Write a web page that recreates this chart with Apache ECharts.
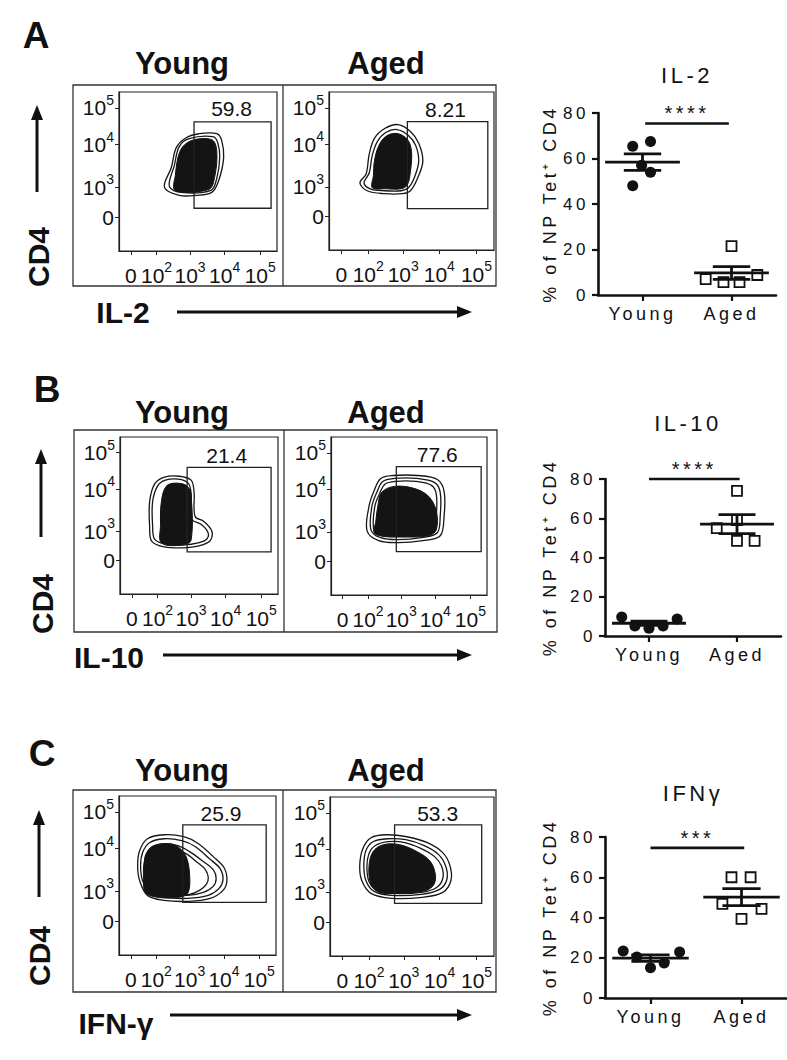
<!DOCTYPE html>
<html><head><meta charset="utf-8">
<script src="https://cdn.jsdelivr.net/npm/echarts@6/dist/echarts.min.js"></script>
<style>
html,body{margin:0;padding:0;background:#fff;}
#flow,#dots{position:absolute;left:0;top:0;width:787px;height:1060px;}
#dots{letter-spacing:3.5px;}
</style></head><body>
<div id="flow"></div><div id="dots"></div>
<script>
// ================= DATA =================
const panelLetters = ['A', 'B', 'C'];
const cytokineAxis = ['IL-2', 'IL-10', 'IFN-γ'];
const dotTitles = ['IL-2', 'IL-10', 'IFNγ'];
const groups = ['Young', 'Aged'];
const markerAxisName = 'CD4';

// flow cytometry display-channel axes (0..160 channel units)
const flowXTicks = [12, 38, 72, 107, 143];
const flowXTickLabels = ['0', '10^2', '10^3', '10^4', '10^5'];
const flowYTicks = [34, 64, 107, 144];
const flowYTickLabels = ['0', '10^3', '10^4', '10^5'];

// gates [x1, x2, y1, y2] in channel units, order: A young, A aged, B young, B aged, C young, C aged
const gates = [[76,154,43,130],[76,154,42,130],[68,153,43,129],[67,154,44,130],[65,150,53,131],[63,148,53,132]];
const gatePct = ['59.8', '8.21', '21.4', '77.6', '25.9', '53.3'];
const gatePctPos = [[114,143],[113,142],[108,141],[109,142],[104,142],[105,143]];

// contour outlines (channel units)
const aYoungOuter = [[46,64],[61,56],[78,56],[94,59],[101,71],[106,94],[104,111],[99,118],[81,118],[68,114],[58,104],[53,84]];
const aYoungMid = [[51,65],[63,59],[93,61],[99,73],[102,94],[100,109],[95,115],[71,113],[61,105],[56,86]];
const aYoungCore = [[57,61],[91,62],[97,75],[99,101],[94,112],[73,111],[62,101],[57,76]];

const aAgedOuter = [[30,68],[37,60],[54,57],[71,57],[79,60],[86,73],[91,90],[87,108],[79,120],[67,127],[54,123],[44,113],[39,97],[36,77]];
const aAgedMid = [[34,68],[40,62],[54,60],[70,60],[77,63],[83,74],[87,90],[84,106],[77,116],[66,122],[55,119],[47,110],[42,96],[39,78]];
const aAgedCore = [[42,63],[55,62],[70,62],[76,66],[79,80],[80,100],[76,112],[66,118],[55,115],[48,105],[44,90],[43,75]];

const bYoungOuter = [[32,54],[45,48],[65,47],[80,49],[91,54],[93,64],[85,74],[76,79],[75,104],[72,116],[60,120],[45,119],[35,112],[30,94],[30,69]];
const bYoungMid = [[35,56],[46,51],[65,50],[79,52],[88,56],[89,63],[82,71],[73,76],[72,103],[69,113],[59,117],[46,116],[38,110],[33,94],[33,70]];
const bYoungCore = [[42,52],[64,50],[72,55],[72,100],[68,110],[57,113],[47,110],[42,95],[41,70]];

const bAgedOuter = [[37,65],[49,55],[69,53],[94,55],[112,60],[116,80],[116,105],[109,117],[89,121],[64,121],[51,118],[44,105],[39,90]];
const bAgedMid = [[41,66],[51,58],[69,56],[93,58],[109,63],[112,80],[112,104],[106,114],[88,118],[65,118],[53,115],[47,104],[42,90]];
const bAgedInner = [[44,66],[53,60],[69,59],[92,61],[106,66],[108,80],[108,102],[103,111],[87,115],[66,115],[55,112],[50,103],[45,90]];
const bAgedCore = [[45,62],[70,59],[100,60],[108,66],[108,85],[100,100],[85,108],[65,110],[52,104],[48,90],[46,75]];

const cYoungOuter = [[21,75],[29,60],[46,55],[71,54],[93,57],[106,65],[110,75],[107,88],[96,99],[81,112],[66,119],[46,121],[29,117],[21,105],[19,90]];
const cYoungMid = [[24,75],[32,62],[46,58],[70,57],[91,60],[102,67],[106,76],[103,87],[92,97],[78,109],[64,115],[46,117],[31,113],[24,103],[22,90]];
const cYoungInner = [[28,74],[35,63],[48,61],[70,60],[86,63],[96,69],[99,77],[96,86],[86,94],[72,104],[60,110],[46,112],[33,108],[27,100],[26,88]];
const cYoungInner2 = [[29,72],[38,61],[55,60],[72,61],[82,65],[89,71],[91,78],[88,86],[80,93],[70,101],[60,106],[47,108],[35,104],[29,97],[28,86]];
const cYoungCore = [[27,63],[40,58],[60,58],[70,62],[72,80],[68,100],[58,110],[45,112],[32,108],[26,95],[25,78]];

const cAgedOuter = [[31,76],[40,63],[60,58],[90,59],[110,64],[118,76],[117,91],[110,104],[95,114],[75,120],[55,122],[40,119],[32,108],[29,91]];
const cAgedMid = [[35,76],[43,65],[60,61],[89,62],[107,67],[114,77],[113,90],[106,102],[92,111],[74,117],[56,118],[42,115],[35,106],[33,91]];
const cAgedInner = [[38,75],[46,66],[62,63],[89,64],[104,69],[110,78],[109,90],[102,100],[89,108],[73,114],[57,115],[44,111],[38,103],[36,90]];
const cAgedCore = [[40,72],[48,64],[65,63],[90,65],[100,70],[103,80],[98,95],[85,105],[68,112],[52,112],[42,105],[38,90]];

const flowRings = [
  [aYoungOuter, aYoungMid], [aAgedOuter, aAgedMid],
  [bYoungOuter, bYoungMid], [bAgedOuter, bAgedMid, bAgedInner],
  [cYoungOuter, cYoungMid, cYoungInner, cYoungInner2], [cAgedOuter, cAgedMid, cAgedInner]
];
const flowCores = [aYoungCore, aAgedCore, bYoungCore, bAgedCore, cYoungCore, cAgedCore];

// dot plots: x = group position (Young 1, Aged 2) with jitter, y = % of NP Tet+ CD4
const youngIL2 = [[0.89,65.4],[1.09,67.5],[0.99,57],[1.09,54],[0.89,48]];
const agedIL2 = [[2.0,21.5],[1.71,7],[1.91,5.7],[2.09,5.7],[2.29,8.8]];
const youngIL10 = [[0.69,9.7],[0.84,5.1],[1.0,4],[1.16,5.1],[1.32,8.7]];
const agedIL10 = [[2.0,74],[1.77,55],[2.0,48.5],[2.2,48.5],[2.0,59]];
const youngIFNg = [[0.7,23.4],[0.85,20.4],[1.0,15],[1.15,17.4],[1.32,22.9]];
const agedIFNg = [[1.89,60],[2.1,60],[1.79,46.8],[2.22,44.3],[2.0,39.3]];
const meanYoung = [58.4, 6.5, 19.8];
const meanAged = [9.7, 57.0, 50.1];
const semYoung = [3.6, 1.1, 1.6];
const semAged = [2.8, 4.8, 4.2];
const sigLabels = ['****', '****', '***'];
const sigFrom = [1.03, 1.0, 1.0];
const sigTo = [1.97, 2.03, 2.03];
const sigY = [75.4, 80, 74.6];
const dotYTicks = [0, 80, 20]; // min, max, interval

// ================= LAYOUT / STYLE =================
const FF = '"Liberation Sans", Arial, Helvetica, sans-serif';
const INK = '#111';
const flowLayout = [
  {left:119, top:92, width:158, height:159}, {left:329, top:92, width:165, height:158},
  {left:120, top:437, width:158, height:157}, {left:331, top:437, width:156, height:158},
  {left:119, top:796, width:157, height:159}, {left:330, top:797, width:164, height:159}
];
const dotLayout = [
  {left:598, top:113, width:178, height:182},
  {left:605, top:479, width:176, height:157},
  {left:605, top:837, width:182, height:161}
];
const outerBoxes = [
  {x:73, y:85, w:423, h:201, div:283}, {x:74, y:430, w:423, h:202, div:284}, {x:73, y:790, w:423, h:202, div:283}
];
const letterPos = [[36,35],[47,389],[42,753]];
const titleY = [63, 412, 770];
const titleX = [182, 386];
const cd4Pos = [[38,257],[42,604],[39,956]];
const upArrow = [[37,192,105],[41,537,449],[39,897,810]];
const cytoPos = [[123,312],[109,657],[116,1023]];
const rightArrow = [[177,472,312],[163,472,655],[170,472,1015]];
const dotTitlePos = [[687,75],[688,423],[693,793]];
const dotNameGap = [39, 46, 46];

function richLabel(s) {
  if (s.indexOf('^') < 0) return '{n|' + s + '}';
  const p = s.split('^');
  return '{n|' + p[0] + '}{s|' + p[1] + '}';
}
const flowRich = {
  n: {fontSize: 21, fontFamily: FF, color: INK, lineHeight: 30},
  s: {fontSize: 14, fontFamily: FF, color: INK, lineHeight: 13, verticalAlign: 'top'}
};

// ================= FLOW CHART =================
const flowGrids = flowLayout.map(g => Object.assign({show: true, borderColor: '#222', borderWidth: 1.2, containLabel: false}, g));
const flowX = flowLayout.map((g, i) => ({
  gridIndex: i, type: 'value', min: 0, max: 160,
  axisLine: {show: true, lineStyle: {color: '#222', width: 1.2}},
  axisTick: {show: true, customValues: flowXTicks, length: 4, lineStyle: {color: '#222'}},
  axisLabel: {customValues: flowXTicks, margin: 9, fontSize: 21, fontFamily: FF, color: INK, hideOverlap: false,
    formatter: v => richLabel(flowXTickLabels[flowXTicks.indexOf(v)] || ''), rich: flowRich},
  splitLine: {show: false}
}));
const flowY = flowLayout.map((g, i) => ({
  gridIndex: i, type: 'value', min: 0, max: 160,
  axisLine: {show: true, lineStyle: {color: '#222', width: 1.2}},
  axisTick: {show: true, customValues: flowYTicks, length: 4, lineStyle: {color: '#222'}},
  axisLabel: {customValues: flowYTicks, margin: 5, fontSize: 21, fontFamily: FF, color: INK, hideOverlap: false,
    formatter: v => richLabel(flowYTickLabels[flowYTicks.indexOf(v)] || ''), rich: flowRich},
  splitLine: {show: false}
}));

function polySeries(gi, pts, style, smooth) {
  return {
    type: 'custom', xAxisIndex: gi, yAxisIndex: gi, data: pts, silent: true, animation: false, clip: false,
    renderItem: (p, api) => p.dataIndex === 0 ? {
      type: 'polygon', shape: {points: pts.map(q => api.coord(q)), smooth: smooth}, style: style
    } : null
  };
}
const flowSeries = [];
flowLayout.forEach((g, i) => {
  flowSeries.push(polySeries(i, flowCores[i], {fill: '#141414', stroke: '#141414', lineWidth: 1}, 0.35));
  flowRings[i].forEach(r => flowSeries.push(polySeries(i, r, {fill: 'none', stroke: '#161616', lineWidth: 1.3}, 0.35)));
  const gt = gates[i];
  flowSeries.push(polySeries(i, [[gt[0],gt[2]],[gt[1],gt[2]],[gt[1],gt[3]],[gt[0],gt[3]]], {fill: 'none', stroke: '#222', lineWidth: 1.3}, 0));
  flowSeries.push({
    type: 'custom', xAxisIndex: i, yAxisIndex: i, data: [gatePctPos[i]], silent: true, animation: false,
    renderItem: (p, api) => {
      const c = api.coord([api.value(0), api.value(1)]);
      return {type: 'text', x: c[0], y: c[1], style: {text: gatePct[i], fontSize: 21, fontFamily: FF, fill: INK, align: 'center', verticalAlign: 'middle'}};
    }
  });
});

const flowGraphic = [];
function gText(x, y, text, size, rot) {
  return {type: 'text', x: x, y: y, rotation: rot || 0, silent: true,
    style: {text: text, font: 'bold ' + size + 'px ' + FF, fill: INK, align: 'center', verticalAlign: 'middle', textAlign: 'center', textVerticalAlign: 'middle'}};
}
for (let k = 0; k < 3; k++) {
  const b = outerBoxes[k];
  flowGraphic.push({type: 'rect', shape: {x: b.x, y: b.y, width: b.w, height: b.h}, style: {fill: 'none', stroke: '#333', lineWidth: 1.3}, silent: true});
  flowGraphic.push({type: 'line', shape: {x1: b.div, y1: b.y, x2: b.div, y2: b.y + b.h}, style: {stroke: '#333', lineWidth: 1.3}, silent: true});
  flowGraphic.push(gText(letterPos[k][0], letterPos[k][1], panelLetters[k], 37));
  flowGraphic.push(gText(titleX[0], titleY[k], groups[0], 31));
  flowGraphic.push(gText(titleX[1], titleY[k], groups[1], 31));
  flowGraphic.push(gText(cd4Pos[k][0], cd4Pos[k][1], markerAxisName, 30, Math.PI / 2));
  flowGraphic.push(gText(cytoPos[k][0], cytoPos[k][1], cytokineAxis[k], 30));
  const u = upArrow[k];
  flowGraphic.push({type: 'line', shape: {x1: u[0], y1: u[1], x2: u[0], y2: u[2] + 10}, style: {stroke: INK, lineWidth: 3}, silent: true});
  flowGraphic.push({type: 'polygon', shape: {points: [[u[0], u[2]], [u[0] - 6, u[2] + 15], [u[0] + 6, u[2] + 15]]}, style: {fill: INK}, silent: true});
  const r = rightArrow[k];
  flowGraphic.push({type: 'line', shape: {x1: r[0], y1: r[2], x2: r[1] - 10, y2: r[2]}, style: {stroke: INK, lineWidth: 3}, silent: true});
  flowGraphic.push({type: 'polygon', shape: {points: [[r[1], r[2]], [r[1] - 15, r[2] - 6], [r[1] - 15, r[2] + 6]]}, style: {fill: INK}, silent: true});
}

const flowChart = echarts.init(document.getElementById('flow'), null, {renderer: 'svg'});
flowChart.setOption({
  backgroundColor: '#fff', animation: false,
  grid: flowGrids, xAxis: flowX, yAxis: flowY, series: flowSeries, graphic: flowGraphic
});

// ================= DOT PLOTS =================
const youngData = [youngIL2, youngIL10, youngIFNg];
const agedData = [agedIL2, agedIL10, agedIFNg];
const dotX = dotLayout.map((g, i) => ({
  gridIndex: i, type: 'value', min: 0.5, max: 2.5,
  axisLine: {show: true, lineStyle: {color: INK, width: 2.6}},
  axisTick: {show: true, customValues: [1, 2], length: 6, lineStyle: {color: INK, width: 2.2}},
  axisLabel: {customValues: [1, 2], formatter: v => groups[Math.round(v) - 1], fontSize: 18, fontFamily: FF, color: INK, margin: 10},
  splitLine: {show: false}
}));
const dotY = dotLayout.map((g, i) => ({
  gridIndex: i, type: 'value', min: dotYTicks[0], max: dotYTicks[1], interval: dotYTicks[2],
  axisLine: {show: true, lineStyle: {color: INK, width: 2.6}},
  axisTick: {show: true, length: 6, lineStyle: {color: INK, width: 2.2}},
  axisLabel: {fontSize: 17, fontFamily: FF, color: INK, margin: 9},
  splitLine: {show: false},
  name: '% of NP Tet⁺ CD4', nameLocation: 'middle', nameRotate: 90, nameGap: dotNameGap[i],
  nameTextStyle: {fontSize: 18, fontFamily: FF, color: INK}
}));
const dotSeries = [];
for (let i = 0; i < 3; i++) {
  dotSeries.push({
    type: 'custom', xAxisIndex: i, yAxisIndex: i, silent: true, animation: false, z: 2,
    data: [[1, meanYoung[i], semYoung[i]], [2, meanAged[i], semAged[i]]],
    renderItem: (p, api) => {
      const x = api.value(0), m = api.value(1), s = api.value(2);
      const st = {stroke: INK, lineWidth: 2.8};
      const seg = (a, b) => ({type: 'line', shape: {x1: a[0], y1: a[1], x2: b[0], y2: b[1]}, style: st});
      return {type: 'group', children: [
        seg(api.coord([x - 0.42, m]), api.coord([x + 0.42, m])),
        seg(api.coord([x, m - s]), api.coord([x, m + s])),
        seg(api.coord([x - 0.21, m + s]), api.coord([x + 0.21, m + s])),
        seg(api.coord([x - 0.21, m - s]), api.coord([x + 0.21, m - s]))
      ]};
    }
  });
  dotSeries.push({type: 'scatter', xAxisIndex: i, yAxisIndex: i, data: youngData[i], symbol: 'circle', symbolSize: 11,
    itemStyle: {color: INK, opacity: 1}, z: 3, silent: true, animation: false});
  dotSeries.push({type: 'scatter', xAxisIndex: i, yAxisIndex: i, data: agedData[i], symbol: 'rect', symbolSize: 10,
    itemStyle: {color: 'rgba(255,255,255,0)', borderColor: INK, borderWidth: 1.8, opacity: 1}, z: 3, silent: true, animation: false});
  dotSeries.push({
    type: 'custom', xAxisIndex: i, yAxisIndex: i, silent: true, animation: false, clip: false,
    data: [[sigFrom[i], sigTo[i], sigY[i]]],
    renderItem: (p, api) => {
      const a = api.coord([api.value(0), api.value(2)]);
      const b = api.coord([api.value(1), api.value(2)]);
      return {type: 'group', children: [
        {type: 'line', shape: {x1: a[0], y1: a[1], x2: b[0], y2: b[1]}, style: {stroke: INK, lineWidth: 2.6}},
        {type: 'text', x: (a[0] + b[0]) / 2, y: a[1] - 10, style: {text: sigLabels[i], fontSize: 20, fontFamily: FF, fill: INK, align: 'center', verticalAlign: 'middle'}}
      ]};
    }
  });
}
const dotGraphic = dotTitlePos.map((p, i) => ({
  type: 'text', x: p[0], y: p[1], silent: true,
  style: {text: dotTitles[i], fontSize: 22, fontFamily: FF, fill: INK, align: 'center', verticalAlign: 'middle', textAlign: 'center', textVerticalAlign: 'middle'}
}));
const dotChart = echarts.init(document.getElementById('dots'), null, {renderer: 'svg'});
dotChart.setOption({
  animation: false,
  grid: dotLayout.map(g => Object.assign({containLabel: false}, g)),
  xAxis: dotX, yAxis: dotY, series: dotSeries, graphic: dotGraphic
});
</script>
</body></html>
